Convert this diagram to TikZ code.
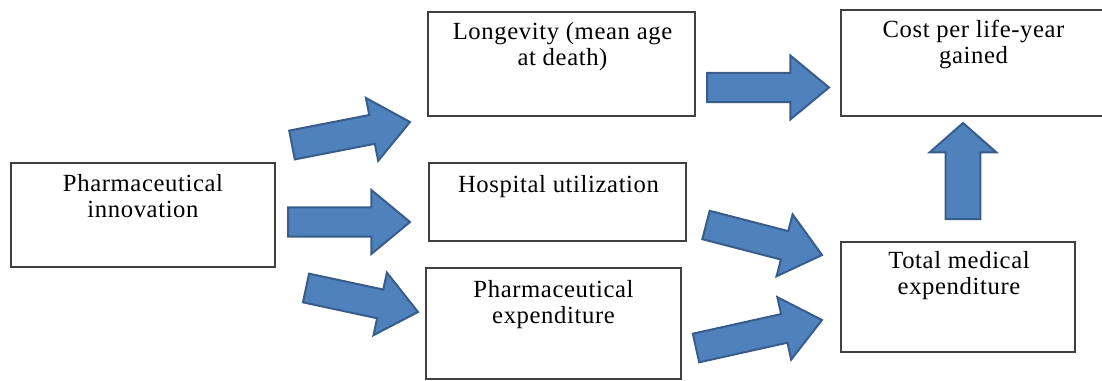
\documentclass[tikz,border=0pt]{standalone}
\usepackage{fontspec}
\setmainfont{Liberation Serif}[LetterSpace=2.5]
\usetikzlibrary{calc}
\definecolor{arrowblue}{HTML}{4F81BD}
\definecolor{arrowedge}{HTML}{385D8A}
\tikzset{
  factor/.style={draw=black!75,line width=1pt,fill=white,inner sep=0pt},
  factortext/.style={anchor=north,align=center,inner sep=0pt,font=\fontsize{18.5}{19}\selectfont},
  blockarrow/.style={fill=arrowblue,draw=arrowedge,line width=1.5pt,line join=miter}
}
\def\shaftw{11pt}
\def\headw{24pt}
\def\headl{29pt}
\newcommand{\blockarrow}[2]{%
  \coordinate (hb) at ($(#2)!\headl!(#1)$);
  \draw[blockarrow] ($(#1)!\shaftw!90:(#2)$) -- ($(hb)!\shaftw!-90:(#1)$)
    -- ($(hb)!\headw!-90:(#1)$) -- (#2) -- ($(hb)!\headw!90:(#1)$)
    -- ($(hb)!\shaftw!90:(#1)$) -- ($(#1)!\shaftw!-90:(#2)$) -- cycle;
}
\begin{document}
\begin{tikzpicture}[x=0.75pt,y=-0.75pt]
      \useasboundingbox (0,0) rectangle (1102,381);

      % boxes
      \node[factor,minimum width=198pt,minimum height=78pt] (innov) at (143,215) {};
      \node[factor,minimum width=200.25pt,minimum height=78pt] (longev) at (561.5,64) {};
      \node[factor,minimum width=192.75pt,minimum height=58.5pt] (hosp) at (557.5,202) {};
      \node[factor,minimum width=191.25pt,minimum height=83.25pt] (pexp) at (553.5,323.5) {};
      \node[factor,minimum width=197.25pt,minimum height=79.5pt] (cost) at (972.5,63) {};
      \node[factor,minimum width=175.5pt,minimum height=82.5pt] (total) at (958,297) {};

      \node[factortext] (innovtxt) at ($(innov.north)+(0,12)$) {Pharmaceutical\\innovation};
      \node[factortext] (longevtxt) at ($(longev.north)+(1,11)$) {Longevity (mean age\\at death)};
      \node[factortext] (hosptxt) at ($(hosp.north)+(1,13)$) {Hospital utilization};
      \node[factortext] (pexptxt) at ($(pexp.north)+(0,13)$) {Pharmaceutical\\expenditure};
      \node[factortext] (costtxt) at ($(cost.north)+(1,11)$) {Cost per life-year\\gained};
      \node[factortext] (totaltxt) at ($(total.north)+(1,10)$) {Total medical\\expenditure};

      % arrow ends
      \coordinate (a1s) at (292,145);
      \coordinate (a1e) at (410,122);
      \coordinate (a2s) at (288,222);
      \coordinate (a2e) at (410,222);
      \coordinate (a3s) at (306,288);
      \coordinate (a3e) at (418,312);
      \coordinate (a4s) at (707,87.5);
      \coordinate (a4e) at (829,87.5);
      \coordinate (a5s) at (706,225);
      \coordinate (a5e) at (822,255);
      \coordinate (a6s) at (696,348);
      \coordinate (a6e) at (822,320);
      \coordinate (a7s) at (963,219);
      \coordinate (a7e) at (963,123);

      \blockarrow{a1s}{a1e}
      \blockarrow{a2s}{a2e}
      \blockarrow{a3s}{a3e}
      \blockarrow{a4s}{a4e}
      \blockarrow{a5s}{a5e}
      \blockarrow{a6s}{a6e}
      \def\shaftw{13pt}
      \def\headw{25pt}
      \def\headl{22pt}
      \blockarrow{a7s}{a7e}
    \end{tikzpicture}
\end{document}
